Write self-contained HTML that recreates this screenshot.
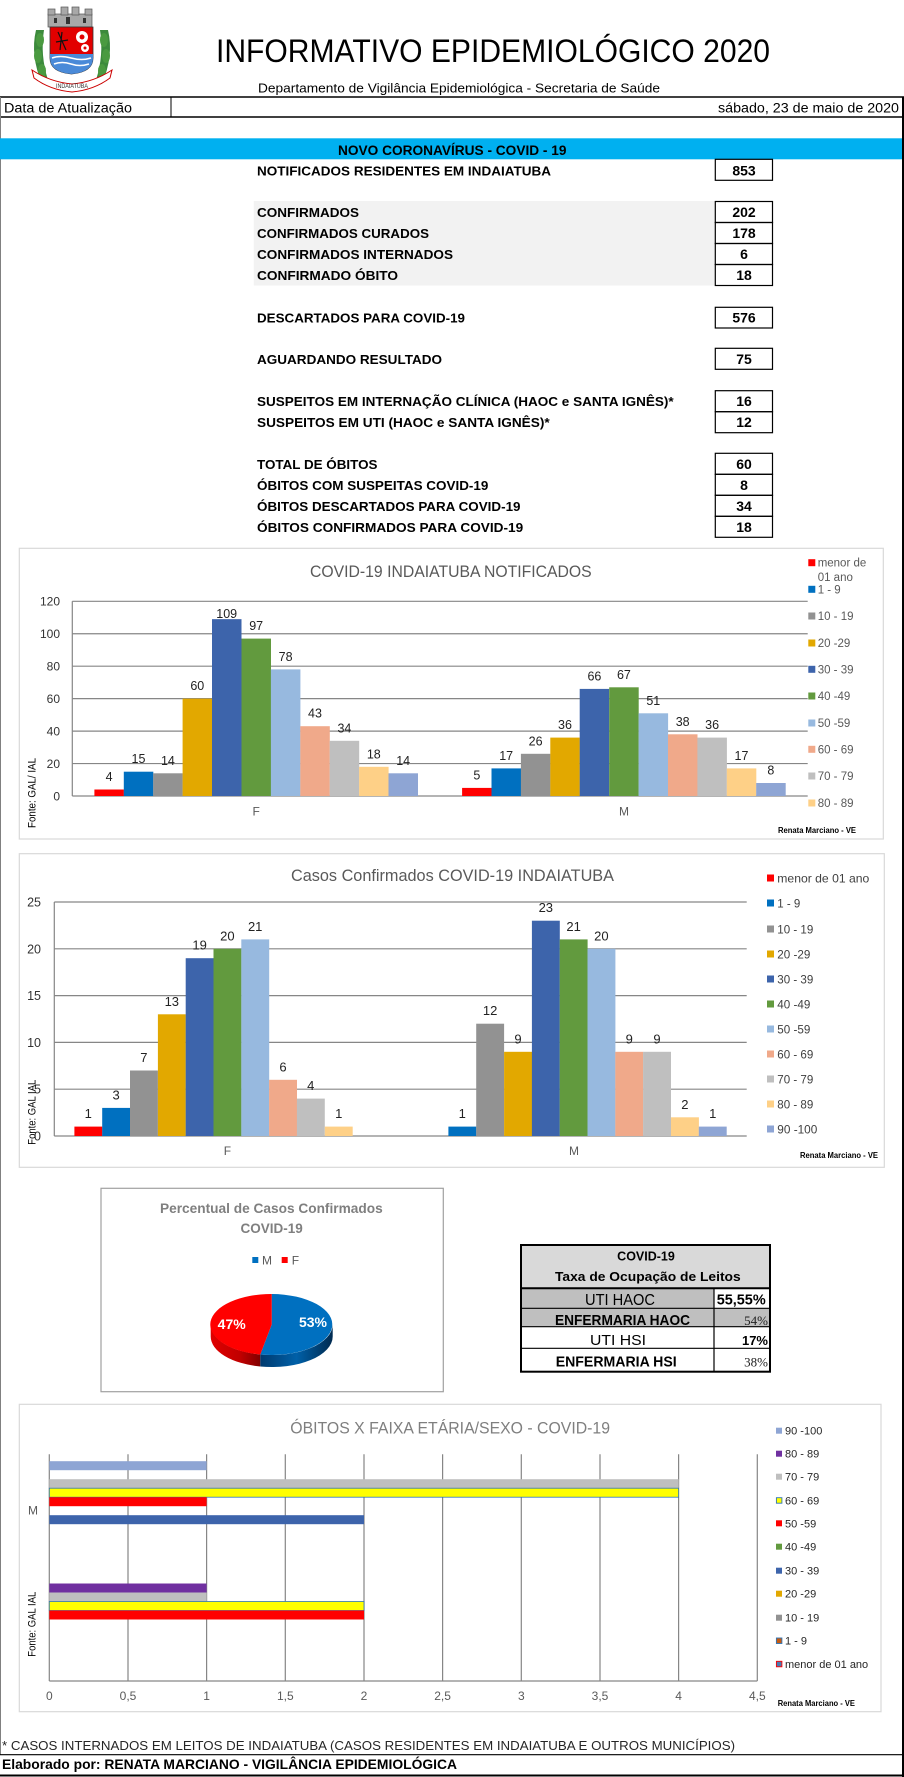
<!DOCTYPE html>
<html><head><meta charset="utf-8">
<style>
html,body{margin:0;padding:0;background:#fff;}
svg{display:block;}
text{font-family:"Liberation Sans",sans-serif;}
.b{font-weight:bold;}
</style></head><body>
<svg width="904" height="1777" viewBox="0 0 904 1777" xmlns="http://www.w3.org/2000/svg">
<defs>
<linearGradient id="gr" x1="0" y1="0" x2="1" y2="0">
<stop offset="0" stop-color="#e00000"/><stop offset="0.6" stop-color="#c00000"/><stop offset="1" stop-color="#800000"/>
</linearGradient>
<linearGradient id="gb" x1="0" y1="0" x2="1" y2="0">
<stop offset="0" stop-color="#003a6e"/><stop offset="0.5" stop-color="#0060a8"/><stop offset="1" stop-color="#002a50"/>
</linearGradient>
</defs>
<rect x="0" y="0" width="904" height="1777" fill="#fff"/>

<!-- LOGO -->
<g>
<path d="M36 30 Q30 55 42 84 L48 80 Q40 55 44 30 Z" fill="#3c8a3c"/>
<path d="M108 30 Q114 55 102 84 L96 80 Q104 55 100 30 Z" fill="#3c8a3c"/>
<ellipse cx="40" cy="40" rx="4" ry="7" fill="#4a9a40"/>
<ellipse cx="38" cy="56" rx="4" ry="7" fill="#4a9a40"/>
<ellipse cx="42" cy="71" rx="4" ry="7" fill="#4a9a40"/>
<ellipse cx="104" cy="40" rx="4" ry="7" fill="#4a9a40"/>
<ellipse cx="106" cy="56" rx="4" ry="7" fill="#4a9a40"/>
<ellipse cx="102" cy="71" rx="4" ry="7" fill="#4a9a40"/>
<rect x="48" y="14" width="44" height="13" fill="#a8a8a8" stroke="#555" stroke-width="0.7"/>
<rect x="48" y="9" width="7" height="6" fill="#a8a8a8" stroke="#555" stroke-width="0.7"/>
<rect x="61" y="7" width="7" height="8" fill="#a8a8a8" stroke="#555" stroke-width="0.7"/>
<rect x="72" y="7" width="7" height="8" fill="#a8a8a8" stroke="#555" stroke-width="0.7"/>
<rect x="85" y="9" width="7" height="6" fill="#a8a8a8" stroke="#555" stroke-width="0.7"/>
<rect x="66" y="17" width="4" height="7" fill="#333"/>
<rect x="54" y="18" width="3" height="5" fill="#333"/>
<rect x="83" y="18" width="3" height="5" fill="#333"/>
<path d="M50 27 L93 27 L93 58 Q93 72 71.5 74 Q50 72 50 58 Z" fill="#e20000" stroke="#333" stroke-width="0.8"/>
<circle cx="82" cy="37" r="6" fill="#fff"/><circle cx="82" cy="37" r="2.5" fill="#e20000"/>
<circle cx="85" cy="48" r="4" fill="#fff"/><circle cx="85" cy="48" r="1.5" fill="#e20000"/>
<path d="M58 32 L66 50 M62 32 L60 50 M56 42 L68 40" stroke="#111" stroke-width="1.2"/>
<path d="M50 54 L93 54 L93 58 Q93 72 71.5 74 Q50 72 50 58 Z" fill="#4a8ad8"/>
<path d="M52 58 Q60 55 71 58 Q82 61 91 58" stroke="#fff" stroke-width="1.5" fill="none"/>
<path d="M54 64 Q62 61 71 64 Q80 67 89 64" stroke="#fff" stroke-width="1.5" fill="none"/>
<path d="M32 70 Q50 82 72 84 Q94 82 112 70 L110 78 Q94 90 72 92 Q50 90 34 78 Z" fill="#fff" stroke="#c00" stroke-width="1"/>
<text x="56" y="88" font-size="6" fill="#333" textLength="32" lengthAdjust="spacingAndGlyphs">INDAIATUBA</text>
</g>

<!-- HEADER -->
<text x="216" y="62" font-size="32" textLength="554" lengthAdjust="spacingAndGlyphs">INFORMATIVO EPIDEMIOLÓGICO 2020</text>
<text x="258" y="92.5" font-size="12.5" textLength="402" lengthAdjust="spacingAndGlyphs">Departamento de Vigilância Epidemiológica - Secretaria de Saúde</text>
<line x1="0" y1="97" x2="904" y2="97" stroke="#000" stroke-width="1.5"/>
<line x1="0" y1="117" x2="904" y2="117" stroke="#000" stroke-width="1.5"/>
<line x1="171" y1="97" x2="171" y2="117" stroke="#000" stroke-width="1"/>
<line x1="0.5" y1="97" x2="0.5" y2="1755" stroke="#808080" stroke-width="1"/>
<line x1="903" y1="97" x2="903" y2="1777" stroke="#000" stroke-width="2"/>
<text x="4" y="112.5" font-size="13.5" textLength="128" lengthAdjust="spacingAndGlyphs">Data de Atualização</text>
<text x="718" y="112.5" font-size="13.5" textLength="181" lengthAdjust="spacingAndGlyphs">sábado, 23 de maio de 2020</text>

<!-- BLUE BAR -->
<rect x="0" y="138.3" width="902" height="21" fill="#00b0f0"/>
<text class="b" x="338" y="155" font-size="13.5" textLength="228.5" lengthAdjust="spacingAndGlyphs">NOVO CORONAVÍRUS - COVID - 19</text>

<!-- TABLE -->
<rect x="253.8" y="201" width="461" height="84.5" fill="#f2f2f2"/>
<g fill="none" stroke="#000" stroke-width="1.2">
<rect x="715.3" y="159.3" width="57.2" height="21"/>
<rect x="715.3" y="201.5" width="57.2" height="21"/>
<rect x="715.3" y="222.5" width="57.2" height="21"/>
<rect x="715.3" y="243.5" width="57.2" height="21"/>
<rect x="715.3" y="264.5" width="57.2" height="21"/>
<rect x="715.3" y="307.3" width="57.2" height="20.7"/>
<rect x="715.3" y="348.3" width="57.2" height="21"/>
<rect x="715.3" y="390.7" width="57.2" height="21"/>
<rect x="715.3" y="411.7" width="57.2" height="21"/>
<rect x="715.3" y="453.3" width="57.2" height="21"/>
<rect x="715.3" y="474.3" width="57.2" height="21"/>
<rect x="715.3" y="495.3" width="57.2" height="21"/>
<rect x="715.3" y="516.3" width="57.2" height="21"/>
</g>
<g class="b" font-size="13" fill="#000">
<text x="257" y="175.5" textLength="294" lengthAdjust="spacingAndGlyphs">NOTIFICADOS RESIDENTES EM INDAIATUBA</text>
<text x="257" y="217" textLength="102" lengthAdjust="spacingAndGlyphs">CONFIRMADOS</text>
<text x="257" y="238" textLength="172" lengthAdjust="spacingAndGlyphs">CONFIRMADOS CURADOS</text>
<text x="257" y="259" textLength="196" lengthAdjust="spacingAndGlyphs">CONFIRMADOS INTERNADOS</text>
<text x="257" y="280" textLength="141" lengthAdjust="spacingAndGlyphs">CONFIRMADO ÓBITO</text>
<text x="257" y="322.5" textLength="208" lengthAdjust="spacingAndGlyphs">DESCARTADOS PARA COVID-19</text>
<text x="257" y="364" textLength="185" lengthAdjust="spacingAndGlyphs">AGUARDANDO RESULTADO</text>
<text x="257" y="406" textLength="416.7" lengthAdjust="spacingAndGlyphs">SUSPEITOS EM INTERNAÇÃO CLÍNICA (HAOC e SANTA IGNÊS)*</text>
<text x="257" y="427" textLength="292.7" lengthAdjust="spacingAndGlyphs">SUSPEITOS EM UTI (HAOC e SANTA IGNÊS)*</text>
<text x="257" y="469" textLength="120.5" lengthAdjust="spacingAndGlyphs">TOTAL DE ÓBITOS</text>
<text x="257" y="490" textLength="231.4" lengthAdjust="spacingAndGlyphs">ÓBITOS COM SUSPEITAS COVID-19</text>
<text x="257" y="511" textLength="263.5" lengthAdjust="spacingAndGlyphs">ÓBITOS DESCARTADOS PARA COVID-19</text>
<text x="257" y="532" textLength="266.2" lengthAdjust="spacingAndGlyphs">ÓBITOS CONFIRMADOS PARA COVID-19</text>
</g>
<g class="b" font-size="14" text-anchor="middle" fill="#000">
<text x="744" y="175.5">853</text>
<text x="744" y="217">202</text>
<text x="744" y="238">178</text>
<text x="744" y="259">6</text>
<text x="744" y="280">18</text>
<text x="744" y="322.5">576</text>
<text x="744" y="364">75</text>
<text x="744" y="406">16</text>
<text x="744" y="427">12</text>
<text x="744" y="469">60</text>
<text x="744" y="490">8</text>
<text x="744" y="511">34</text>
<text x="744" y="532">18</text>
</g>

<!-- CHART 1 -->
<rect x="19.3" y="548.3" width="864" height="290.7" fill="#fff" stroke="#d9d9d9" stroke-width="1.2"/>
<text x="310" y="577" font-size="17" fill="#595959" textLength="281.7" lengthAdjust="spacingAndGlyphs">COVID-19 INDAIATUBA NOTIFICADOS</text>
<g stroke="#868686" stroke-width="1.2">
<line x1="72.3" y1="601.3" x2="807.7" y2="601.3"/>
<line x1="72.3" y1="633.75" x2="807.7" y2="633.75"/>
<line x1="72.3" y1="666.2" x2="807.7" y2="666.2"/>
<line x1="72.3" y1="698.65" x2="807.7" y2="698.65"/>
<line x1="72.3" y1="731.1" x2="807.7" y2="731.1"/>
<line x1="72.3" y1="763.55" x2="807.7" y2="763.55"/>
<line x1="72.3" y1="796" x2="807.7" y2="796"/>
<line x1="72.3" y1="601.3" x2="72.3" y2="796"/>
</g>
<g font-size="12" fill="#333" text-anchor="end">
<text x="60" y="605.5">120</text>
<text x="60" y="638">100</text>
<text x="60" y="670.5">80</text>
<text x="60" y="703">60</text>
<text x="60" y="735.5">40</text>
<text x="60" y="768">20</text>
<text x="60" y="800.5">0</text>
</g>
<g>
<rect x="94.4" y="789.5" width="29.5" height="6.5" fill="#ff0000"/>
<rect x="123.8" y="771.7" width="29.5" height="24.3" fill="#0070c0"/>
<rect x="153.2" y="773.3" width="29.5" height="22.7" fill="#929292"/>
<rect x="182.6" y="698.65" width="29.5" height="97.35" fill="#e2a800"/>
<rect x="212.0" y="619.15" width="29.5" height="176.85" fill="#3d64ab"/>
<rect x="241.5" y="638.6" width="29.5" height="157.4" fill="#629a3e"/>
<rect x="270.9" y="669.4" width="29.5" height="126.6" fill="#97b9df"/>
<rect x="300.3" y="726.2" width="29.5" height="69.8" fill="#f0a98a"/>
<rect x="329.7" y="740.8" width="29.5" height="55.2" fill="#bfbfbf"/>
<rect x="359.1" y="766.8" width="29.5" height="29.2" fill="#fed087"/>
<rect x="388.5" y="773.3" width="29.5" height="22.7" fill="#8ea5d4"/>
<rect x="462.1" y="787.9" width="29.5" height="8.1" fill="#ff0000"/>
<rect x="491.5" y="768.4" width="29.5" height="27.6" fill="#0070c0"/>
<rect x="520.9" y="753.8" width="29.5" height="42.2" fill="#929292"/>
<rect x="550.3" y="737.6" width="29.5" height="58.4" fill="#e2a800"/>
<rect x="579.7" y="688.9" width="29.5" height="107.1" fill="#3d64ab"/>
<rect x="609.2" y="687.3" width="29.5" height="108.7" fill="#629a3e"/>
<rect x="638.6" y="713.3" width="29.5" height="82.7" fill="#97b9df"/>
<rect x="668.0" y="734.3" width="29.5" height="61.7" fill="#f0a98a"/>
<rect x="697.4" y="737.6" width="29.5" height="58.4" fill="#bfbfbf"/>
<rect x="726.8" y="768.4" width="29.5" height="27.6" fill="#fed087"/>
<rect x="756.2" y="783.0" width="29.5" height="13.0" fill="#8ea5d4"/>
</g>
<g font-size="12.5" fill="#222" text-anchor="middle">
<text x="109.1" y="781">4</text>
<text x="138.5" y="763.2">15</text>
<text x="167.9" y="764.8">14</text>
<text x="197.3" y="690.2">60</text>
<text x="226.7" y="618">109</text>
<text x="256.2" y="630.1">97</text>
<text x="285.6" y="660.9">78</text>
<text x="315" y="717.7">43</text>
<text x="344.4" y="732.3">34</text>
<text x="373.8" y="758.3">18</text>
<text x="403.2" y="764.8">14</text>
<text x="476.8" y="779.4">5</text>
<text x="506.2" y="759.9">17</text>
<text x="535.6" y="745.3">26</text>
<text x="565" y="729.1">36</text>
<text x="594.4" y="680.4">66</text>
<text x="623.9" y="678.8">67</text>
<text x="653.3" y="704.8">51</text>
<text x="682.7" y="725.8">38</text>
<text x="712.1" y="729.1">36</text>
<text x="741.5" y="759.9">17</text>
<text x="770.9" y="774.5">8</text>
</g>
<g font-size="12" fill="#595959" text-anchor="middle">
<text x="256.2" y="815.5">F</text>
<text x="624" y="815.5">M</text>
</g>
<text transform="translate(35.5,828) rotate(-90)" x="0" y="0" font-size="11" fill="#000" textLength="70" lengthAdjust="spacingAndGlyphs">Fonte: GAL/ IAL</text>
<g>
<rect x="808.3" y="559.2" width="7" height="7" fill="#ff0000"/>
<rect x="808.3" y="585.8" width="7" height="7" fill="#0070c0"/>
<rect x="808.3" y="612.5" width="7" height="7" fill="#929292"/>
<rect x="808.3" y="639.5" width="7" height="7" fill="#e2a800"/>
<rect x="808.3" y="665.8" width="7" height="7" fill="#3d64ab"/>
<rect x="808.3" y="692.5" width="7" height="7" fill="#629a3e"/>
<rect x="808.3" y="719.5" width="7" height="7" fill="#97b9df"/>
<rect x="808.3" y="745.8" width="7" height="7" fill="#f0a98a"/>
<rect x="808.3" y="772.5" width="7" height="7" fill="#bfbfbf"/>
<rect x="808.3" y="799.5" width="7" height="7" fill="#fed087"/>
</g>
<g font-size="11.5" fill="#595959">
<text x="817.7" y="566.7">menor de</text>
<text x="817.7" y="581">01 ano</text>
<text x="817.7" y="593.3">1 - 9</text>
<text x="817.7" y="620">10 - 19</text>
<text x="817.7" y="647">20 -29</text>
<text x="817.7" y="673.3">30 - 39</text>
<text x="817.7" y="700">40 -49</text>
<text x="817.7" y="727">50 -59</text>
<text x="817.7" y="753.3">60 - 69</text>
<text x="817.7" y="780">70 - 79</text>
<text x="817.7" y="807">80 - 89</text>
</g>
<text class="b" x="778" y="833" font-size="8" fill="#000" textLength="78" lengthAdjust="spacingAndGlyphs">Renata Marciano - VE</text>

<!-- CHART 2 -->
<rect x="19.3" y="853.7" width="865" height="313.6" fill="#fff" stroke="#d9d9d9" stroke-width="1.2"/>
<text x="291" y="881" font-size="17" fill="#595959" textLength="323" lengthAdjust="spacingAndGlyphs">Casos Confirmados COVID-19 INDAIATUBA</text>
<g stroke="#868686" stroke-width="1.2">
<line x1="54.3" y1="902" x2="746.7" y2="902"/>
<line x1="54.3" y1="948.8" x2="746.7" y2="948.8"/>
<line x1="54.3" y1="995.6" x2="746.7" y2="995.6"/>
<line x1="54.3" y1="1042.4" x2="746.7" y2="1042.4"/>
<line x1="54.3" y1="1089.2" x2="746.7" y2="1089.2"/>
<line x1="54.3" y1="1136" x2="746.7" y2="1136"/>
<line x1="54.3" y1="902" x2="54.3" y2="1136"/>
</g>
<g font-size="12.5" fill="#333" text-anchor="end">
<text x="41" y="906.5">25</text>
<text x="41" y="953.3">20</text>
<text x="41" y="1000.1">15</text>
<text x="41" y="1046.9">10</text>
<text x="41" y="1093.7">5</text>
<text x="41" y="1140.5">0</text>
</g>
<g>
<rect x="74.4" y="1126.6" width="27.9" height="9.4" fill="#ff0000"/>
<rect x="102.2" y="1107.9" width="27.9" height="28.1" fill="#0070c0"/>
<rect x="130.0" y="1070.5" width="27.9" height="65.5" fill="#929292"/>
<rect x="157.9" y="1014.3" width="27.9" height="121.7" fill="#e2a800"/>
<rect x="185.7" y="958.2" width="27.9" height="177.8" fill="#3d64ab"/>
<rect x="213.5" y="948.8" width="27.9" height="187.2" fill="#629a3e"/>
<rect x="241.3" y="939.4" width="27.9" height="196.6" fill="#97b9df"/>
<rect x="269.1" y="1079.8" width="27.9" height="56.2" fill="#f0a98a"/>
<rect x="296.9" y="1098.6" width="27.9" height="37.4" fill="#bfbfbf"/>
<rect x="324.8" y="1126.6" width="27.9" height="9.4" fill="#fed087"/>
<rect x="448.4" y="1126.6" width="27.9" height="9.4" fill="#0070c0"/>
<rect x="476.2" y="1023.7" width="27.9" height="112.3" fill="#929292"/>
<rect x="504.1" y="1051.8" width="27.9" height="84.2" fill="#e2a800"/>
<rect x="531.9" y="920.7" width="27.9" height="215.3" fill="#3d64ab"/>
<rect x="559.7" y="939.4" width="27.9" height="196.6" fill="#629a3e"/>
<rect x="587.5" y="948.8" width="27.9" height="187.2" fill="#97b9df"/>
<rect x="615.3" y="1051.8" width="27.9" height="84.2" fill="#f0a98a"/>
<rect x="643.1" y="1051.8" width="27.9" height="84.2" fill="#bfbfbf"/>
<rect x="671.0" y="1117.3" width="27.9" height="18.7" fill="#fed087"/>
<rect x="698.8" y="1126.6" width="27.9" height="9.4" fill="#8ea5d4"/>
</g>
<g font-size="13" fill="#222" text-anchor="middle">
<text x="88.3" y="1118.1">1</text>
<text x="116.1" y="1099.4">3</text>
<text x="143.9" y="1062">7</text>
<text x="171.8" y="1005.8">13</text>
<text x="199.6" y="949.7">19</text>
<text x="227.4" y="940.3">20</text>
<text x="255.2" y="930.9">21</text>
<text x="283" y="1071.3">6</text>
<text x="310.8" y="1090.1">4</text>
<text x="338.7" y="1118.1">1</text>
<text x="462.3" y="1118.1">1</text>
<text x="490.1" y="1015.2">12</text>
<text x="518" y="1043.3">9</text>
<text x="545.8" y="912.2">23</text>
<text x="573.6" y="930.9">21</text>
<text x="601.4" y="940.3">20</text>
<text x="629.2" y="1043.3">9</text>
<text x="657" y="1043.3">9</text>
<text x="684.9" y="1108.8">2</text>
<text x="712.7" y="1118.1">1</text>
</g>
<g font-size="12" fill="#595959" text-anchor="middle">
<text x="227.4" y="1155">F</text>
<text x="574" y="1155">M</text>
</g>
<text transform="translate(35.5,1144.7) rotate(-90)" x="0" y="0" font-size="11" fill="#000" textLength="65" lengthAdjust="spacingAndGlyphs">Fonte: GAL IAL</text>
<g>
<rect x="767" y="874.5" width="7" height="7" fill="#ff0000"/>
<rect x="767" y="899.5" width="7" height="7" fill="#0070c0"/>
<rect x="767" y="925.5" width="7" height="7" fill="#929292"/>
<rect x="767" y="950.5" width="7" height="7" fill="#e2a800"/>
<rect x="767" y="975.5" width="7" height="7" fill="#3d64ab"/>
<rect x="767" y="1000.5" width="7" height="7" fill="#629a3e"/>
<rect x="767" y="1025.5" width="7" height="7" fill="#97b9df"/>
<rect x="767" y="1050.5" width="7" height="7" fill="#f0a98a"/>
<rect x="767" y="1075.5" width="7" height="7" fill="#bfbfbf"/>
<rect x="767" y="1100.5" width="7" height="7" fill="#fed087"/>
<rect x="767" y="1125.5" width="7" height="7" fill="#8ea5d4"/>
</g>
<g font-size="12" fill="#404040">
<text x="777.3" y="882.3" textLength="92" lengthAdjust="spacingAndGlyphs">menor de 01 ano</text>
<text x="777.3" y="907.3" textLength="23" lengthAdjust="spacingAndGlyphs">1 - 9</text>
<text x="777.3" y="933.3" textLength="36" lengthAdjust="spacingAndGlyphs">10 - 19</text>
<text x="777.3" y="958.3" textLength="33" lengthAdjust="spacingAndGlyphs">20 -29</text>
<text x="777.3" y="983.3" textLength="36" lengthAdjust="spacingAndGlyphs">30 - 39</text>
<text x="777.3" y="1008.3" textLength="33" lengthAdjust="spacingAndGlyphs">40 -49</text>
<text x="777.3" y="1033.3" textLength="33" lengthAdjust="spacingAndGlyphs">50 -59</text>
<text x="777.3" y="1058.3" textLength="36" lengthAdjust="spacingAndGlyphs">60 - 69</text>
<text x="777.3" y="1083.3" textLength="36" lengthAdjust="spacingAndGlyphs">70 - 79</text>
<text x="777.3" y="1108.3" textLength="36" lengthAdjust="spacingAndGlyphs">80 - 89</text>
<text x="777.3" y="1133.3" textLength="40" lengthAdjust="spacingAndGlyphs">90 -100</text>
</g>
<text class="b" x="800" y="1158" font-size="8" fill="#000" textLength="78" lengthAdjust="spacingAndGlyphs">Renata Marciano - VE</text>

<!-- PIE CHART -->
<rect x="101" y="1188.3" width="342.3" height="203.4" fill="#fff" stroke="#a0a0a0" stroke-width="1.2"/>
<text class="b" x="160" y="1213" font-size="13.5" fill="#7f7f7f" textLength="222.7" lengthAdjust="spacingAndGlyphs">Percentual de Casos Confirmados</text>
<text class="b" x="271.7" y="1233" font-size="13.5" fill="#7f7f7f" text-anchor="middle">COVID-19</text>
<rect x="252.3" y="1257" width="6" height="6" fill="#0070c0"/>
<text x="262" y="1264.5" font-size="12" fill="#595959">M</text>
<rect x="281.7" y="1257" width="6" height="6" fill="#ff0000"/>
<text x="291.7" y="1264.5" font-size="12" fill="#595959">F</text>
<path d="M210.7 1324.5 A61 30.5 0 0 0 260.3 1354.5 L260.3 1366.5 A61 30.5 0 0 1 210.7 1336.5 Z" fill="url(#gr)"/>
<path d="M260.3 1354.5 A61 30.5 0 0 0 332.7 1324.5 L332.7 1336.5 A61 30.5 0 0 1 260.3 1366.5 Z" fill="url(#gb)"/>
<path d="M271.7 1324.5 L271.7 1294 A61 30.5 0 1 1 260.3 1354.5 Z" fill="#0070c0"/>
<path d="M271.7 1324.5 L260.3 1354.5 A61 30.5 0 0 1 271.7 1294 Z" fill="#ff0000"/>
<text class="b" x="313" y="1327" font-size="14" fill="#fff" text-anchor="middle">53%</text>
<text class="b" x="231.7" y="1329" font-size="14" fill="#fff" text-anchor="middle">47%</text>

<!-- OCCUPANCY TABLE -->
<rect x="521" y="1245" width="249" height="43.3" fill="#d9d9d9"/>
<rect x="521" y="1288.3" width="193" height="20" fill="#bfbfbf"/>
<rect x="521" y="1308.3" width="249" height="18.4" fill="#bfbfbf"/>
<g stroke="#000" fill="none">
<rect x="521" y="1245" width="249" height="126.7" stroke-width="2"/>
<line x1="521" y1="1288.3" x2="770" y2="1288.3" stroke-width="2"/>
<line x1="521" y1="1308.3" x2="770" y2="1308.3" stroke-width="1.2"/>
<line x1="521" y1="1326.7" x2="770" y2="1326.7" stroke-width="1.2"/>
<line x1="521" y1="1348.3" x2="770" y2="1348.3" stroke-width="1.2"/>
<line x1="714" y1="1288.3" x2="714" y2="1371.7" stroke-width="1.2"/>
</g>
<text class="b" x="646" y="1260.5" font-size="12.5" text-anchor="middle">COVID-19</text>
<text class="b" x="555" y="1281" font-size="12.5" textLength="185.7" lengthAdjust="spacingAndGlyphs">Taxa de Ocupação de Leitos</text>
<text x="585" y="1305" font-size="16" textLength="70" lengthAdjust="spacingAndGlyphs">UTI HAOC</text>
<text class="b" x="716.7" y="1304.5" font-size="14.5" textLength="49" lengthAdjust="spacingAndGlyphs">55,55%</text>
<text class="b" x="555" y="1325" font-size="15" textLength="135" lengthAdjust="spacingAndGlyphs">ENFERMARIA HAOC</text>
<text x="768" y="1325" font-size="13" font-family="Liberation Serif,serif" style="font-family:'Liberation Serif',serif" fill="#222" text-anchor="end">54%</text>
<text x="590" y="1345" font-size="15" textLength="56" lengthAdjust="spacingAndGlyphs">UTI HSI</text>
<text class="b" x="768" y="1345" font-size="13" text-anchor="end">17%</text>
<text class="b" x="555.7" y="1366.5" font-size="15" textLength="121" lengthAdjust="spacingAndGlyphs">ENFERMARIA HSI</text>
<text x="768" y="1366.5" font-size="13" style="font-family:'Liberation Serif',serif" fill="#222" text-anchor="end">38%</text>

<!-- CHART 4 -->
<rect x="19.3" y="1404.3" width="861.7" height="307.4" fill="#fff" stroke="#d9d9d9" stroke-width="1.2"/>
<text x="290.3" y="1433.5" font-size="17" fill="#7f7f7f" textLength="319.7" lengthAdjust="spacingAndGlyphs">ÓBITOS X FAIXA ETÁRIA/SEXO - COVID-19</text>
<g stroke="#868686" stroke-width="1.2">
<line x1="49.3" y1="1454.3" x2="49.3" y2="1681"/>
<line x1="128" y1="1454.3" x2="128" y2="1681"/>
<line x1="206.6" y1="1454.3" x2="206.6" y2="1681"/>
<line x1="285.3" y1="1454.3" x2="285.3" y2="1681"/>
<line x1="364" y1="1454.3" x2="364" y2="1681"/>
<line x1="442.6" y1="1454.3" x2="442.6" y2="1681"/>
<line x1="521.3" y1="1454.3" x2="521.3" y2="1681"/>
<line x1="600" y1="1454.3" x2="600" y2="1681"/>
<line x1="678.6" y1="1454.3" x2="678.6" y2="1681"/>
<line x1="757.3" y1="1454.3" x2="757.3" y2="1681"/>
<line x1="49.3" y1="1681" x2="757.3" y2="1681"/>
</g>
<g>
<rect x="49.3" y="1461.2" width="157.3" height="9" fill="#8ea5d4"/>
<rect x="49.3" y="1479.2" width="629.3" height="9" fill="#bfbfbf"/>
<rect x="49.3" y="1488.2" width="629.3" height="9" fill="#ffff00" stroke="#2e75b6" stroke-width="0.8"/>
<rect x="49.3" y="1497.2" width="157.3" height="9" fill="#ff0000"/>
<rect x="49.3" y="1515.2" width="314.7" height="9" fill="#3d64ab"/>
<rect x="49.3" y="1583.5" width="157.3" height="9" fill="#7030a0"/>
<rect x="49.3" y="1592.5" width="157.3" height="9" fill="#bfbfbf"/>
<rect x="49.3" y="1601.5" width="314.7" height="9" fill="#ffff00" stroke="#2e75b6" stroke-width="0.8"/>
<rect x="49.3" y="1610.5" width="314.7" height="9" fill="#ff0000"/>
</g>
<g font-size="12" fill="#595959" text-anchor="middle">
<text x="49.3" y="1700">0</text>
<text x="128" y="1700">0,5</text>
<text x="206.6" y="1700">1</text>
<text x="285.3" y="1700">1,5</text>
<text x="364" y="1700">2</text>
<text x="442.6" y="1700">2,5</text>
<text x="521.3" y="1700">3</text>
<text x="600" y="1700">3,5</text>
<text x="678.6" y="1700">4</text>
<text x="757.3" y="1700">4,5</text>
<text x="33" y="1514.5">M</text>
</g>
<text transform="translate(35.5,1656.7) rotate(-90)" x="0" y="0" font-size="11" fill="#000" textLength="65" lengthAdjust="spacingAndGlyphs">Fonte: GAL IAL</text>
<g>
<rect x="776" y="1427.7" width="6" height="6" fill="#8ea5d4"/>
<rect x="776" y="1450.7" width="6" height="6" fill="#7030a0"/>
<rect x="776" y="1473.7" width="6" height="6" fill="#bfbfbf"/>
<rect x="776.4" y="1497.7" width="5.5" height="5.5" fill="#ffff00" stroke="#2e75b6" stroke-width="0.9"/>
<rect x="776" y="1520.3" width="6" height="6" fill="#ff0000"/>
<rect x="776" y="1543.7" width="6" height="6" fill="#629a3e"/>
<rect x="776" y="1567.7" width="6" height="6" fill="#3d64ab"/>
<rect x="776" y="1590.7" width="6" height="6" fill="#e2a800"/>
<rect x="776" y="1614.7" width="6" height="6" fill="#929292"/>
<rect x="776.4" y="1638" width="5.5" height="5.5" fill="#c55a11" stroke="#2e75b6" stroke-width="0.9"/>
<rect x="776.4" y="1661.3" width="5.5" height="5.5" fill="#4a7ab0" stroke="#ff0000" stroke-width="0.9"/>
</g>
<g font-size="11" fill="#262626">
<text x="785" y="1434.7">90 -100</text>
<text x="785" y="1457.7">80 - 89</text>
<text x="785" y="1480.7">70 - 79</text>
<text x="785" y="1504.3">60 - 69</text>
<text x="785" y="1527.3">50 -59</text>
<text x="785" y="1550.7">40 -49</text>
<text x="785" y="1574.7">30 - 39</text>
<text x="785" y="1597.7">20 -29</text>
<text x="785" y="1621.7">10 - 19</text>
<text x="785" y="1644.7">1 - 9</text>
<text x="785" y="1668">menor de 01 ano</text>
</g>
<text class="b" x="777.7" y="1706" font-size="8" fill="#000" textLength="77.3" lengthAdjust="spacingAndGlyphs">Renata Marciano - VE</text>

<!-- FOOTER -->
<text x="2" y="1750" font-size="13" fill="#262626" textLength="733" lengthAdjust="spacingAndGlyphs">* CASOS INTERNADOS EM LEITOS DE INDAIATUBA (CASOS RESIDENTES EM INDAIATUBA E OUTROS MUNICÍPIOS)</text>
<line x1="0" y1="1754.7" x2="904" y2="1754.7" stroke="#000" stroke-width="1.2"/>
<text class="b" x="2" y="1769" font-size="14" fill="#000" textLength="455" lengthAdjust="spacingAndGlyphs">Elaborado por: RENATA MARCIANO - VIGILÂNCIA EPIDEMIOLÓGICA</text>
<line x1="0" y1="1775.5" x2="904" y2="1775.5" stroke="#000" stroke-width="2"/>
</svg>
</body></html>
